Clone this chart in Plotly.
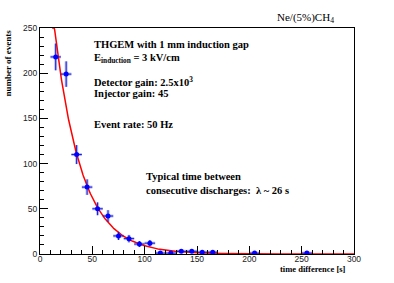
import numpy as np
import plotly.graph_objects as go

# ---- data ----
bin_centers = [15, 25, 35, 45, 55, 65, 75, 85, 95, 105, 115, 125, 135, 145, 155, 165, 205, 255]
counts = [218, 199, 110, 74, 50, 42, 20, 17, 11, 12, 1, 1, 3, 3, 2, 2, 1, 1]
count_errors = [14.8, 14.1, 10.5, 8.6, 7.1, 6.5, 4.5, 4.1, 3.3, 3.5, 1.0, 1.0, 1.7, 1.7, 1.4, 1.4, 1.0, 1.0]
bin_half_width = [5] * len(bin_centers)

# exponential fit parameters (lambda ~ 26 s)
fit_amplitude = 425.0
fit_lambda = 26.0
fit_range = [11.6, 300.0]

x_ticks = [0, 50, 100, 150, 200, 250, 300]
y_ticks = [0, 50, 100, 150, 200, 250]
x_range = [0, 300]
y_range = [0, 250]

t = np.linspace(fit_range[0], fit_range[1], 600)
fit_vals = np.minimum(fit_amplitude * np.exp(-t / fit_lambda), y_range[1])

SERIF = "Liberation Serif, Times New Roman, serif"
SANS = "Liberation Sans, Arial, Helvetica, sans-serif"

W, H = 394, 283
# plot frame in window pixels: x 40..354, y 28..254
ML, MT = 40, 28
MR, MB = W - 354, H - 254
PW, PH = W - ML - MR, H - MT - MB

fig = go.Figure()

# light, thick error bars
fig.add_trace(go.Scatter(
    x=bin_centers, y=counts, mode="markers",
    marker=dict(size=1, color="rgba(0,0,0,0)"),
    error_y=dict(type="data", array=count_errors, color="rgba(90,110,230,0.45)", thickness=3, width=0),
    error_x=dict(type="data", array=bin_half_width, color="rgba(90,110,230,0.45)", thickness=3, width=0),
    showlegend=False, hoverinfo="skip"))

# fit curve
fig.add_trace(go.Scatter(
    x=t, y=fit_vals, mode="lines",
    line=dict(color="#ff0000", width=1.5),
    showlegend=False, hoverinfo="skip"))

# data points with thin dark error bars
fig.add_trace(go.Scatter(
    x=bin_centers, y=counts, mode="markers",
    marker=dict(size=5, color="#0000ff"),
    error_y=dict(type="data", array=count_errors, color="#1a1acc", thickness=1, width=0),
    error_x=dict(type="data", array=bin_half_width, color="#1a1acc", thickness=1, width=0),
    showlegend=False))

axis_common = dict(
    showline=True, linecolor="#000000", linewidth=1, mirror=True,
    ticks="inside", tickcolor="#000000", tickwidth=1,
    showgrid=False, zeroline=False, automargin=False,
    tickfont=dict(family=SANS, size=8.5, color="#222222"),
)

fig.update_xaxes(range=x_range, tickvals=x_ticks, ticklen=8, ticklabelstandoff=-3,
                 minor=dict(dtick=10, ticks="inside", ticklen=4, tickcolor="#000000"),
                 **axis_common)
fig.update_yaxes(range=y_range, tickvals=y_ticks, ticklen=8, ticklabelstandoff=0,
                 minor=dict(dtick=10, ticks="inside", ticklen=4, tickcolor="#000000"),
                 **axis_common)

# positions in window pixels
annotations = [
    dict(text="Ne/(5%)CH<sub>4</sub>", x=275, y=18, size=11, bold=False, anchor="left"),
    dict(text="THGEM with 1 mm induction gap", x=92, y=44, size=10.5, bold=True, anchor="left"),
    dict(text="E<sub>induction</sub> = 3 kV/cm", x=92, y=58, size=10.5, bold=True, anchor="left"),
    dict(text="Detector gain: 2.5x10<sup>3</sup>", x=92, y=81, size=10.5, bold=True, anchor="left"),
    dict(text="Injector gain: 45", x=92, y=93, size=10.5, bold=True, anchor="left"),
    dict(text="Event rate: 50 Hz", x=92, y=124, size=10.5, bold=True, anchor="left"),
    dict(text="Typical time between", x=144, y=176, size=10.5, bold=True, anchor="left"),
    dict(text="consecutive discharges:  \u03bb ~ 26 s", x=144, y=190, size=10.5, bold=True, anchor="left"),
    dict(text="time difference [s]", x=348, y=269, size=8.5, bold=True),
]

for a in annotations:
    txt = "<b>%s</b>" % a["text"] if a["bold"] else a["text"]
    fig.add_annotation(
        text=txt, xref="paper", yref="paper",
        x=(a["x"] - ML) / PW, y=(H - MB - a["y"]) / PH,
        xanchor=a.get("anchor", "right"), yanchor="middle",
        showarrow=False, font=dict(family=SERIF, size=a["size"], color="#000000"))

# y-axis title, top-aligned as in ROOT
fig.add_annotation(
    text="<b>number of events</b>", xref="paper", yref="paper",
    x=(7 - ML) / PW, y=1.0, xanchor="center", yanchor="top",
    textangle=-90, showarrow=False,
    font=dict(family=SERIF, size=9, color="#000000"))

fig.update_layout(
    width=W, height=H,
    margin=dict(l=ML, r=MR, t=MT, b=MB, autoexpand=False),
    paper_bgcolor="#ffffff", plot_bgcolor="#ffffff",
)

# remove the default page margin so the figure sits at the window origin
fig.write_html("out.html", config={"displayModeBar": False},
               post_script="document.body.style.margin='0px';")
